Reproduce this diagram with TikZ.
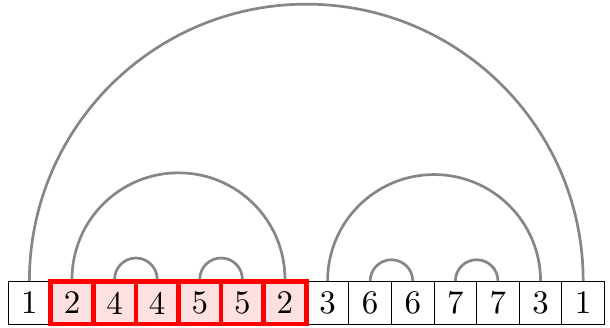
\documentclass[tikz,border=0pt]{standalone}
\usepackage{tikz}

\begin{document}
\begin{tikzpicture}[
        cell/.style={draw=black, line width=0.7pt, fill=white,
                     minimum size=1cm, inner sep=0pt},
        hit/.style={draw=red, line width=3pt, fill=red!12,
                    minimum size=1cm, inner sep=0pt},
        link/.style={draw=gray!95, line width=1.8pt},
    ]
        \useasboundingbox (-0.19,-0.07) rectangle (14.13,7.61);
        % Sequence cells (plain first, marked run on top).
        \foreach \i/\v/\s in {0/1/cell, 7/3/cell, 8/6/cell, 9/6/cell,
                              10/7/cell, 11/7/cell, 12/3/cell, 13/1/cell,
                              1/2/hit, 2/4/hit, 3/4/hit, 4/5/hit,
                              5/5/hit, 6/2/hit}{
            \node[\s] (c\i) at (\i+0.5,0.5) {\scalebox{2.2}{\v}};}
        % Matching pairs.
        \foreach \a/\r in {0/6.5, 1/2.5, 2/0.5, 4/0.5, 7/2.5, 8/0.5, 10/0.5}{
            \draw[link] (c\a.north) arc[start angle=180, end angle=0, radius=\r];}
    \end{tikzpicture}
\end{document}
